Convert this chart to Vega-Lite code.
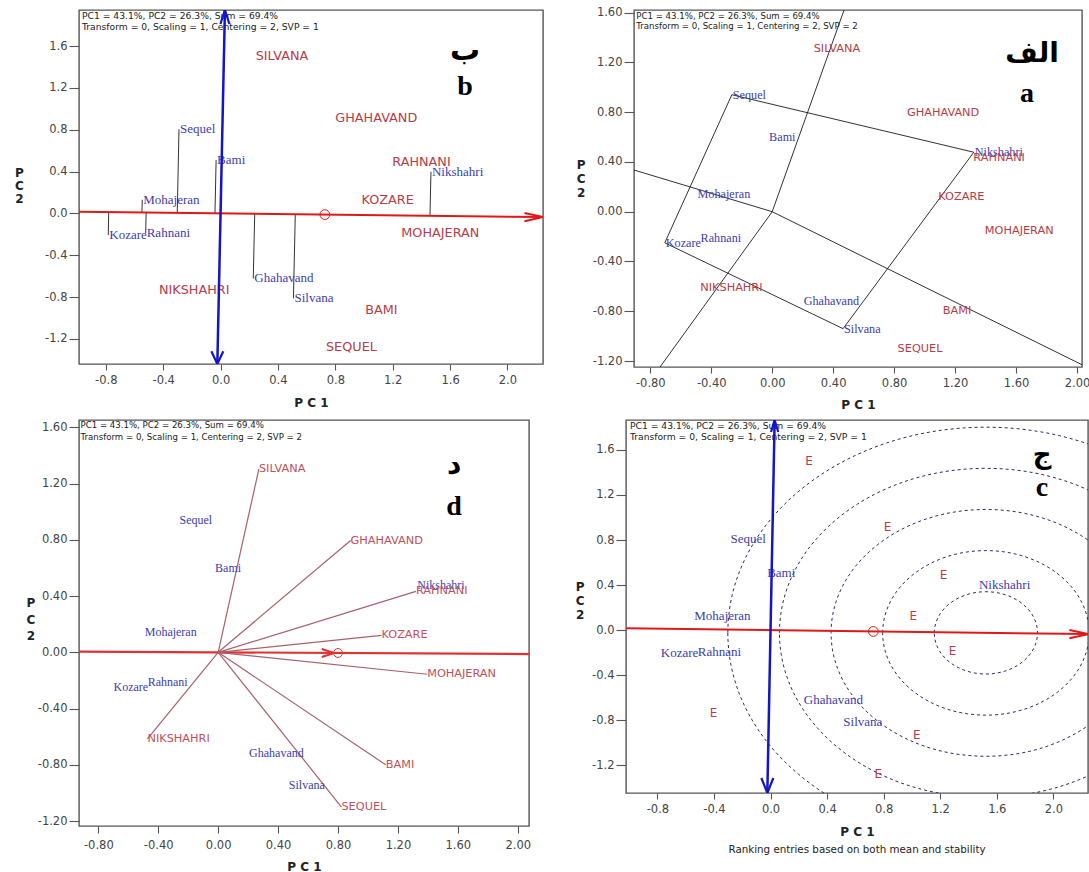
{
  "$schema": "https://vega.github.io/schema/vega-lite/v6.json",
  "background": "white",
  "padding": {"left": 13, "top": 5, "right": 0, "bottom": 0},
  "spacing": 8,
  "datasets": {
    "g1": [
      {"name": "Sequel", "x": -0.290, "y": 0.805, "x2": -0.302, "y2": 0.005},
      {"name": "Bami", "x": -0.031, "y": 0.510, "x2": -0.039, "y2": 0.001},
      {"name": "Mohajeran", "x": -0.546, "y": 0.130, "x2": -0.548, "y2": 0.009},
      {"name": "Kozare", "x": -0.783, "y": -0.207, "x2": -0.780, "y2": 0.012},
      {"name": "Rahnani", "x": -0.522, "y": -0.190, "x2": -0.519, "y2": 0.008},
      {"name": "Ghahavand", "x": 0.228, "y": -0.622, "x2": 0.238, "y2": -0.004},
      {"name": "Silvana", "x": 0.508, "y": -0.813, "x2": 0.521, "y2": -0.008},
      {"name": "Nikshahri", "x": 1.467, "y": 0.398, "x2": 1.460, "y2": -0.023}
    ],
    "e1": [
      {"name": "SILVANA", "x": 0.245, "y": 1.502},
      {"name": "GHAHAVAND", "x": 0.800, "y": 0.917},
      {"name": "RAHNANI", "x": 1.197, "y": 0.492},
      {"name": "KOZARE", "x": 0.983, "y": 0.130},
      {"name": "MOHAJERAN", "x": 1.260, "y": -0.185},
      {"name": "NIKSHAHRI", "x": -0.430, "y": -0.737},
      {"name": "BAMI", "x": 1.008, "y": -0.928},
      {"name": "SEQUEL", "x": 0.735, "y": -1.276}
    ],
    "g2": [
      {"name": "Sequel", "x": -0.265, "y": 0.940},
      {"name": "Bami", "x": -0.027, "y": 0.600},
      {"name": "Mohajeran", "x": -0.497, "y": 0.146},
      {"name": "Nikshahri", "x": 1.323, "y": 0.478},
      {"name": "Kozare", "x": -0.705, "y": -0.250},
      {"name": "Rahnani", "x": -0.477, "y": -0.212},
      {"name": "Ghahavand", "x": 0.200, "y": -0.718},
      {"name": "Silvana", "x": 0.465, "y": -0.940}
    ],
    "e2": [
      {"name": "SILVANA", "x": 0.272, "y": 1.305},
      {"name": "GHAHAVAND", "x": 0.884, "y": 0.795},
      {"name": "RAHNANI", "x": 1.320, "y": 0.433},
      {"name": "KOZARE", "x": 1.090, "y": 0.121},
      {"name": "MOHAJERAN", "x": 1.395, "y": -0.156},
      {"name": "NIKSHAHRI", "x": -0.472, "y": -0.615},
      {"name": "BAMI", "x": 1.119, "y": -0.800},
      {"name": "SEQUEL", "x": 0.823, "y": -1.100}
    ],
    "aecXb": [{"x": -0.987, "y": 0.0154, "x2": 2.248, "y2": -0.0351}],
    "aecYb": [{"x": -0.0225, "y": -1.44, "x2": 0.0303, "y2": 1.945}],
    "aecXc": [{"x": -1.022, "y": 0.0159, "x2": 2.245, "y2": -0.035}],
    "aecYc": [{"x": -0.0225, "y": -1.445, "x2": 0.0291, "y2": 1.865}],
    "avg1": [{"x": 0.727, "y": -0.0113}],
    "rings": [
      {"x": 1.523, "y": -0.024, "r": 0.365},
      {"x": 1.523, "y": -0.024, "r": 0.730},
      {"x": 1.523, "y": -0.024, "r": 1.095},
      {"x": 1.523, "y": -0.024, "r": 1.460},
      {"x": 1.523, "y": -0.024, "r": 1.825}
    ],
    "aecX2": [{"x": -1.2, "y": 0.0072, "x2": 2.3, "y2": -0.0138}],
    "avg2": [{"x": 0.80, "y": -0.0048}],
    "poly": [
      {"x": -0.265, "y": 0.940, "x2": 1.323, "y2": 0.478},
      {"x": 1.323, "y": 0.478, "x2": 0.465, "y2": -0.940},
      {"x": 0.465, "y": -0.940, "x2": -0.705, "y2": -0.250},
      {"x": -0.705, "y": -0.250, "x2": -0.265, "y2": 0.940}
    ],
    "rays": [
      {"x": 0, "y": 0, "x2": 0.838, "y2": 2.881},
      {"x": 0, "y": 0, "x2": 2.567, "y2": -1.553},
      {"x": 0, "y": 0, "x2": -1.524, "y2": -2.584},
      {"x": 0, "y": 0, "x2": -2.814, "y2": 1.040}
    ],
    "blank": [{}]
  },
  "vconcat": [
    {
      "bounds": "flush",
      "spacing": 91,
      "hconcat": [
        {
          "width": 464, "height": 354,
          "encoding": {
            "x": {"field": "x", "type": "quantitative", "scale": {"domain": [-0.987, 2.248], "nice": false, "zero": false},
              "axis": {"title": "P C 1", "values": [-0.8, -0.4, 0, 0.4, 0.8, 1.2, 1.6, 2], "format": ".1f", "labelExpr": "replace(datum.label, '−', '-')", "titleY": 38, "titleBaseline": "middle", "tickSize": 6, "labelPadding": 4}},
            "y": {"field": "y", "type": "quantitative", "scale": {"domain": [-1.44, 1.945], "nice": false, "zero": false},
              "axis": {"title": ["P", "C", "2"], "values": [-1.2, -0.8, -0.4, 0, 0.4, 0.8, 1.2, 1.6], "format": ".1f", "labelExpr": "replace(datum.label, '−', '-')", "tickSize": 10, "labelPadding": 2, "titleAngle": 0, "titleAlign": "center", "titleBaseline": "middle", "titleX": -60, "titleY": 162, "titleLineHeight": 13}}
          },
          "layer": [
            {"data": {"values": [{"x": -0.966, "y": 1.924}]}, "mark": {"type": "text", "text": ["PC1 = 43.1%, PC2 = 26.3%, Sum = 69.4%", "Transform = 0, Scaling = 1, Centering = 2, SVP = 1"], "align": "left", "baseline": "top", "lineHeight": 11, "font": "DejaVu Sans", "fontSize": 9.2, "color": "#1a1a1a"}},
            {"data": {"name": "g1"}, "mark": {"type": "rule", "color": "#333333", "strokeWidth": 1, "clip": true},
              "encoding": {"x2": {"field": "x2"}, "y2": {"field": "y2"}}},
            {"data": {"name": "aecXb"}, "mark": {"type": "rule", "color": "#e01818", "strokeWidth": 2, "clip": true},
              "encoding": {"x2": {"field": "x2"}, "y2": {"field": "y2"}}},
            {"data": {"name": "g1"}, "mark": {"type": "text", "align": "left", "baseline": "middle", "dx": 1, "font": "Liberation Serif", "fontSize": 13, "color": "#3c3cae"},
              "encoding": {"text": {"field": "name"}}},
            {"data": {"name": "e1"}, "mark": {"type": "text", "align": "left", "baseline": "middle", "font": "DejaVu Sans", "fontSize": 12.8, "color": "#b63c48"},
              "encoding": {"text": {"field": "name"}}},
            {"data": {"name": "aecYb"}, "mark": {"type": "rule", "color": "#1414c8", "strokeWidth": 2.5, "clip": true},
              "encoding": {"x2": {"field": "x2"}, "y2": {"field": "y2"}}},
            {"data": {"name": "aecXb"}, "mark": {"type": "point", "shape": "M -1 -0.22 L 0 0 L -1 0.22", "size": 1384, "filled": false, "color": "#e01818", "strokeWidth": 2, "opacity": 1, "clip": true},
              "encoding": {"x": {"field": "x2", "type": "quantitative"}, "y": {"field": "y2", "type": "quantitative"}}},
            {"data": {"name": "aecYb"}, "mark": {"type": "point", "shape": "M -0.32 1 L 0 0 L 0.32 1", "size": 784, "filled": false, "color": "#1414c8", "strokeWidth": 2.2, "opacity": 1, "clip": true},
              "encoding": {"x": {"field": "x2", "type": "quantitative"}, "y": {"field": "y2", "type": "quantitative"}}},
            {"data": {"name": "aecYb"}, "mark": {"type": "point", "shape": "M -0.47 -1 L 0 0 L 0.47 -1", "size": 645, "filled": false, "color": "#1414c8", "strokeWidth": 2.2, "opacity": 1, "clip": true}},
            {"data": {"name": "avg1"}, "mark": {"type": "point", "shape": "circle", "size": 95, "filled": false, "color": "#e01818", "strokeWidth": 1, "opacity": 1}},
            {"data": {"values": [{"t": "ب", "x": 1.704, "y": 1.549}]}, "mark": {"type": "text", "font": "DejaVu Sans", "fontWeight": "bold", "fontSize": 30, "align": "center", "baseline": "middle", "color": "#000000"},
              "encoding": {"text": {"field": "t"}}},
            {"data": {"values": [{"t": "b", "x": 1.704, "y": 1.205}]}, "mark": {"type": "text", "font": "Liberation Serif", "fontWeight": "bold", "fontSize": 28, "align": "center", "baseline": "middle", "color": "#000000"},
              "encoding": {"text": {"field": "t"}}}
          ]
        },
        {
          "width": 448, "height": 357,
          "encoding": {
            "x": {"field": "x", "type": "quantitative", "scale": {"domain": [-0.907, 2.033], "nice": false, "zero": false},
              "axis": {"title": "P C 1", "values": [-0.8, -0.4, 0, 0.4, 0.8, 1.2, 1.6, 2], "format": ".2f", "labelExpr": "replace(datum.label, '−', '-')", "titleY": 37, "titleBaseline": "middle", "tickSize": 6, "labelPadding": 4}},
            "y": {"field": "y", "type": "quantitative", "scale": {"domain": [-1.248, 1.621], "nice": false, "zero": false},
              "axis": {"title": ["P", "C", "2"], "values": [-1.2, -0.8, -0.4, 0, 0.4, 0.8, 1.2, 1.6], "format": ".2f", "labelExpr": "replace(datum.label, '−', '-')", "tickSize": 10, "labelPadding": 2, "titleAngle": 0, "titleAlign": "center", "titleBaseline": "middle", "titleX": -53.4, "titleY": 154, "titleLineHeight": 14}}
          },
          "layer": [
            {"data": {"values": [{"x": -0.892, "y": 1.607}]}, "mark": {"type": "text", "text": ["PC1 = 43.1%, PC2 = 26.3%, Sum = 69.4%", "Transform = 0, Scaling = 1, Centering = 2, SVP = 2"], "align": "left", "baseline": "top", "lineHeight": 10.6, "font": "DejaVu Sans", "fontSize": 8.6, "color": "#1a1a1a"}},
            {"data": {"name": "blank"}, "mark": {"type": "rule", "color": "#111111", "strokeWidth": 1, "strokeDash": [2, 2], "clip": true},
              "encoding": {"x": {"datum": 0}, "y": {"datum": -5}, "y2": {"datum": 5}}},
            {"data": {"name": "blank"}, "mark": {"type": "rule", "color": "#111111", "strokeWidth": 1, "strokeDash": [2, 2], "clip": true},
              "encoding": {"x": {"datum": -5}, "x2": {"datum": 5}, "y": {"datum": 0}}},
            {"data": {"name": "rays"}, "mark": {"type": "rule", "color": "#1a1a1a", "strokeWidth": 0.9, "clip": true},
              "encoding": {"x2": {"field": "x2"}, "y2": {"field": "y2"}}},
            {"data": {"name": "poly"}, "mark": {"type": "rule", "color": "#1a1a1a", "strokeWidth": 0.9, "clip": true},
              "encoding": {"x2": {"field": "x2"}, "y2": {"field": "y2"}}},
            {"data": {"name": "g2"}, "mark": {"type": "text", "align": "left", "baseline": "middle", "dx": 1, "font": "Liberation Serif", "fontSize": 12.2, "color": "#3c3cae"},
              "encoding": {"text": {"field": "name"}}},
            {"data": {"name": "e2"}, "mark": {"type": "text", "align": "left", "baseline": "middle", "font": "DejaVu Sans", "fontSize": 11.3, "color": "#b63c48"},
              "encoding": {"text": {"field": "name"}}},
            {"data": {"values": [{"t": "الف", "x": 1.705, "y": 1.268}]}, "mark": {"type": "text", "font": "DejaVu Sans", "fontWeight": "bold", "fontSize": 28, "align": "center", "baseline": "middle", "color": "#000000"},
              "encoding": {"text": {"field": "t"}}},
            {"data": {"values": [{"t": "a", "x": 1.672, "y": 0.946}]}, "mark": {"type": "text", "font": "Liberation Serif", "fontWeight": "bold", "fontSize": 28, "align": "center", "baseline": "middle", "color": "#000000"},
              "encoding": {"text": {"field": "t"}}}
          ]
        }
      ]
    },
    {
      "bounds": "flush",
      "spacing": 97,
      "hconcat": [
        {
          "width": 450, "height": 406,
          "encoding": {
            "x": {"field": "x", "type": "quantitative", "scale": {"domain": [-0.929, 2.075], "nice": false, "zero": false},
              "axis": {"title": "P C 1", "values": [-0.8, -0.4, 0, 0.4, 0.8, 1.2, 1.6, 2], "format": ".2f", "labelExpr": "replace(datum.label, '−', '-')", "titleY": 40, "titleBaseline": "middle", "tickSize": 7, "labelPadding": 6}},
            "y": {"field": "y", "type": "quantitative", "scale": {"domain": [-1.235, 1.652], "nice": false, "zero": false},
              "axis": {"title": ["P", "C", "2"], "values": [-1.2, -0.8, -0.4, 0, 0.4, 0.8, 1.2, 1.6], "format": ".2f", "labelExpr": "replace(datum.label, '−', '-')", "tickSize": 10, "labelPadding": 2, "titleAngle": 0, "titleAlign": "center", "titleBaseline": "middle", "titleX": -48.7, "titleY": 182.7, "titleLineHeight": 16.5}}
          },
          "layer": [
            {"data": {"values": [{"x": -0.919, "y": 1.643}]}, "mark": {"type": "text", "text": ["PC1 = 43.1%, PC2 = 26.3%, Sum = 69.4%", "Transform = 0, Scaling = 1, Centering = 2, SVP = 2"], "align": "left", "baseline": "top", "lineHeight": 12, "font": "DejaVu Sans", "fontSize": 8.6, "color": "#1a1a1a"}},
            {"data": {"name": "blank"}, "mark": {"type": "rule", "color": "#111111", "strokeWidth": 1, "strokeDash": [2, 2], "clip": true},
              "encoding": {"x": {"datum": 0}, "y": {"datum": -5}, "y2": {"datum": 5}}},
            {"data": {"name": "aecX2"}, "mark": {"type": "rule", "color": "#e03030", "strokeWidth": 2.2, "clip": true},
              "encoding": {"x2": {"field": "x2"}, "y2": {"field": "y2"}}},
            {"data": {"name": "blank"}, "mark": {"type": "rule", "color": "#111111", "strokeWidth": 1, "strokeDash": [2, 2], "clip": true},
              "encoding": {"x": {"datum": -5}, "x2": {"datum": 5}, "y": {"datum": 0}}},
            {"data": {"name": "e2"}, "mark": {"type": "rule", "color": "#a8606a", "strokeWidth": 1.2},
              "encoding": {"x2": {"datum": 0}, "y2": {"datum": 0}}},
            {"data": {"name": "avg2"}, "mark": {"type": "point", "shape": "M -1.3 -0.32 L -0.3 0 L -1.3 0.32", "size": 625, "filled": false, "color": "#e03030", "strokeWidth": 2, "opacity": 1}},
            {"data": {"name": "avg2"}, "mark": {"type": "point", "shape": "circle", "size": 78, "filled": false, "color": "#e03030", "strokeWidth": 1, "opacity": 1}},
            {"data": {"name": "g2"}, "mark": {"type": "text", "align": "left", "baseline": "middle", "dx": 1, "font": "Liberation Serif", "fontSize": 12, "color": "#3c3cae"},
              "encoding": {"text": {"field": "name"}}},
            {"data": {"name": "e2"}, "mark": {"type": "text", "align": "left", "baseline": "middle", "font": "DejaVu Sans", "fontSize": 11.3, "color": "#c0505c"},
              "encoding": {"text": {"field": "name"}}},
            {"data": {"values": [{"t": "د", "x": 1.575, "y": 1.325}]}, "mark": {"type": "text", "font": "DejaVu Sans", "fontWeight": "bold", "fontSize": 28, "align": "center", "baseline": "middle", "color": "#000000"},
              "encoding": {"text": {"field": "t"}}},
            {"data": {"values": [{"t": "d", "x": 1.575, "y": 1.033}]}, "mark": {"type": "text", "font": "Liberation Serif", "fontWeight": "bold", "fontSize": 28, "align": "center", "baseline": "middle", "color": "#000000"},
              "encoding": {"text": {"field": "t"}}}
          ]
        },
        {
          "width": 462, "height": 373,
          "title": {"text": "Ranking entries based on both mean and stability", "orient": "bottom", "anchor": "middle", "frame": "group", "offset": 8, "font": "DejaVu Sans", "fontSize": 10.3, "fontWeight": "normal", "color": "#222222"},
          "encoding": {
            "x": {"field": "x", "type": "quantitative", "scale": {"domain": [-1.022, 2.245], "nice": false, "zero": false},
              "axis": {"title": "P C 1", "values": [-0.8, -0.4, 0, 0.4, 0.8, 1.2, 1.6, 2], "format": ".1f", "labelExpr": "replace(datum.label, '−', '-')", "titleY": 38, "titleBaseline": "middle", "tickSize": 6, "labelPadding": 4}},
            "y": {"field": "y", "type": "quantitative", "scale": {"domain": [-1.445, 1.865], "nice": false, "zero": false},
              "axis": {"title": ["P", "C", "2"], "values": [-1.2, -0.8, -0.4, 0, 0.4, 0.8, 1.2, 1.6], "format": ".1f", "labelExpr": "replace(datum.label, '−', '-')", "tickSize": 10, "labelPadding": 2, "titleAngle": 0, "titleAlign": "center", "titleBaseline": "middle", "titleX": -46.4, "titleY": 166, "titleLineHeight": 14}}
          },
          "layer": [
            {"data": {"values": [{"x": -0.994, "y": 1.85}]}, "mark": {"type": "text", "text": ["PC1 = 43.1%, PC2 = 26.3%, Sum = 69.4%", "Transform = 0, Scaling = 1, Centering = 2, SVP = 1"], "align": "left", "baseline": "top", "lineHeight": 11.5, "font": "DejaVu Sans", "fontSize": 9.2, "color": "#1a1a1a"}},
            {"data": {"name": "rings"}, "mark": {"type": "point", "shape": "M -1 0 A 1 0.797 0 1 1 1 0 A 1 0.797 0 1 1 -1 0 Z", "filled": false, "color": "#2c2c60", "strokeWidth": 1, "strokeDash": [3, 3], "opacity": 1, "clip": true},
              "encoding": {"size": {"field": "r", "type": "quantitative", "scale": {"type": "pow", "exponent": 2, "domain": [0, 1], "range": [0, 79976]}, "legend": null}}},
            {"data": {"name": "aecXc"}, "mark": {"type": "rule", "color": "#e01818", "strokeWidth": 2, "clip": true},
              "encoding": {"x2": {"field": "x2"}, "y2": {"field": "y2"}}},
            {"data": {"name": "g1"}, "mark": {"type": "text", "align": "left", "baseline": "middle", "dx": 1, "font": "Liberation Serif", "fontSize": 13, "color": "#3c3cae"},
              "encoding": {"text": {"field": "name"}}},
            {"data": {"name": "e1"}, "mark": {"type": "text", "text": "E", "align": "left", "baseline": "middle", "font": "DejaVu Sans", "fontSize": 12, "color": "#b63c48"}},
            {"data": {"name": "aecYc"}, "mark": {"type": "rule", "color": "#1414c8", "strokeWidth": 2.5, "clip": true},
              "encoding": {"x2": {"field": "x2"}, "y2": {"field": "y2"}}},
            {"data": {"name": "aecXc"}, "mark": {"type": "point", "shape": "M -1 -0.22 L 0 0 L -1 0.22", "size": 1384, "filled": false, "color": "#e01818", "strokeWidth": 2, "opacity": 1, "clip": true},
              "encoding": {"x": {"field": "x2", "type": "quantitative"}, "y": {"field": "y2", "type": "quantitative"}}},
            {"data": {"name": "aecYc"}, "mark": {"type": "point", "shape": "M -0.3 1 L 0 0 L 0.3 1", "size": 576, "filled": false, "color": "#1414c8", "strokeWidth": 2.2, "opacity": 1, "clip": true},
              "encoding": {"x": {"field": "x2", "type": "quantitative"}, "y": {"field": "y2", "type": "quantitative"}}},
            {"data": {"name": "aecYc"}, "mark": {"type": "point", "shape": "M -0.4 -1 L 0 0 L 0.4 -1", "size": 900, "filled": false, "color": "#1414c8", "strokeWidth": 2.2, "opacity": 1, "clip": true}},
            {"data": {"name": "avg1"}, "mark": {"type": "point", "shape": "circle", "size": 95, "filled": false, "color": "#e01818", "strokeWidth": 1, "opacity": 1}},
            {"data": {"values": [{"t": "ج", "x": 1.92, "y": 1.55}]}, "mark": {"type": "text", "font": "DejaVu Sans", "fontWeight": "bold", "fontSize": 26, "align": "center", "baseline": "middle", "color": "#000000"},
              "encoding": {"text": {"field": "t"}}},
            {"data": {"values": [{"t": "c", "x": 1.92, "y": 1.265}]}, "mark": {"type": "text", "font": "Liberation Serif", "fontWeight": "bold", "fontSize": 28, "align": "center", "baseline": "middle", "color": "#000000"},
              "encoding": {"text": {"field": "t"}}}
          ]
        }
      ]
    }
  ],
  "config": {
    "view": {"stroke": "#555555", "strokeWidth": 1.4},
    "axis": {"grid": false, "domain": false, "tickColor": "#555555", "tickWidth": 1.1, "labelFont": "DejaVu Sans", "labelFontSize": 11.5, "labelColor": "#444444", "titleFont": "DejaVu Sans", "titleFontSize": 12, "titleFontWeight": "bold", "titleColor": "#222222", "labelFlush": false, "labelOverlap": false}
  }
}
